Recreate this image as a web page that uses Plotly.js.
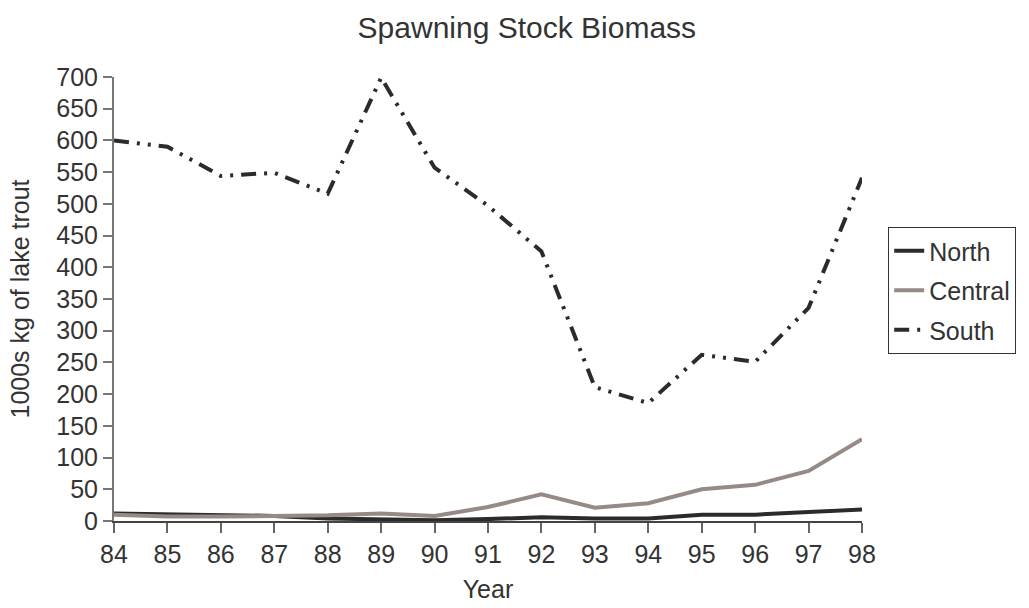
<!DOCTYPE html>
<html>
<head>
<meta charset="utf-8">
<script src="https://cdn.plot.ly/plotly-3.0.1.min.js"></script>
<style>html,body{margin:0;padding:0;background:#fff;}#chart{width:1029px;height:608px;}</style>
</head>
<body>
<div id="chart"></div>
<script>
const years = [84, 85, 86, 87, 88, 89, 90, 91, 92, 93, 94, 95, 96, 97, 98];
const north = [12, 11, 9, 8, 4, 3, 1, 3, 6, 4, 4, 10, 10, 14, 18];
const central = [10, 7, 7, 8, 9, 12, 8, 22, 42, 21, 28, 50, 57, 79, 129];
const south = [600, 590, 544, 549, 516, 699, 557, 497, 425, 211, 186, 262, 251, 336, 541];
const tickVals = [84, 85, 86, 87, 88, 89, 90, 91, 92, 93, 94, 95, 96, 97, 98];

const font = {family: 'Liberation Sans, Arial, sans-serif', size: 25, color: '#333'};
const traces = [
  {x: years, y: north, name: 'North', mode: 'lines', legendgroup: 'a', line: {color: '#2b2b2e', width: 4}},
  {x: years, y: central, name: 'Central', mode: 'lines', legendgroup: 'b', line: {color: '#978a86', width: 4}},
  {x: years, y: south, name: 'South', mode: 'lines', legendgroup: 'c', line: {color: '#2b2b2e', width: 4, dash: '15px,8px,3px,8px,3px,8px'}}
];
const layout = {
  width: 1029, height: 608,
  margin: {l: 114, r: 167, t: 77, b: 87},
  paper_bgcolor: '#fff', plot_bgcolor: '#fff',
  font: font,
  showlegend: true,
  title: {text: 'Spawning Stock Biomass', font: {family: font.family, size: 30, color: '#333'}, x: 0.512, xanchor: 'center', y: 0.955, yanchor: 'middle'},
  xaxis: {
    range: [84, 98], tickvals: tickVals, ticktext: tickVals.map(String),
    showgrid: false, zeroline: false, showline: true, linecolor: '#444', linewidth: 2,
    ticks: 'outside', ticklen: 10, tickcolor: '#666', tickwidth: 2,
    tickfont: font,
    title: {text: 'Year', font: font, standoff: 13}
  },
  yaxis: {
    range: [0, 700], dtick: 50, tick0: 0,
    showgrid: false, zeroline: false, showline: true, linecolor: '#777', linewidth: 2,
    ticks: 'outside', ticklen: 9, tickcolor: '#777', tickwidth: 2,
    tickfont: font,
    title: {text: '1000s kg of lake trout', font: font, standoff: 20}
  },
  legend: {
    x: 1.035, y: 0.662, xanchor: 'left', yanchor: 'top',
    bordercolor: '#333', borderwidth: 1, bgcolor: '#fff',
    font: font, tracegroupgap: 4, itemwidth: 30
  }
};
Plotly.newPlot('chart', traces, layout, {staticPlot: true, displayModeBar: false});
</script>
</body>
</html>
